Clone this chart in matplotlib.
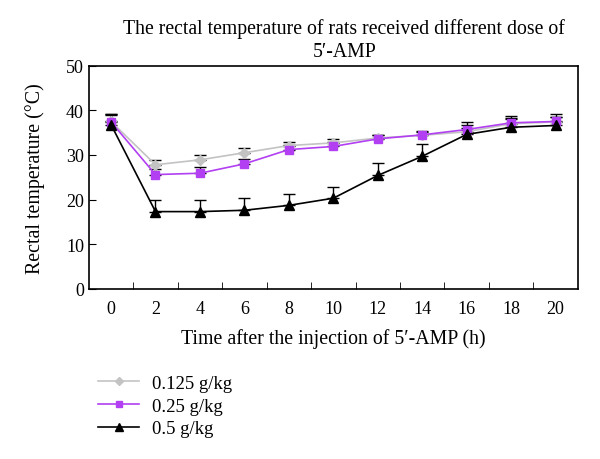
import numpy as np
import matplotlib
matplotlib.use("Agg")
import matplotlib.pyplot as plt
from matplotlib.lines import Line2D

# 数据
hours = [0, 2, 4, 6, 8, 10, 12, 14, 16, 18, 20]
labels = ["0.125 g/kg", "0.25 g/kg", "0.5 g/kg"]
temp_low = [37.5, 27.8, 28.9, 30.5, 32.1, 32.7, 33.8, 34.4, 35.2, 37.0, 37.4]
err_low = [1.6, 1.0, 1.0, 1.0, 0.8, 0.8, 0.7, 0.8, 0.9, 1.0, 1.0]
temp_mid = [37.4, 25.6, 25.9, 28.0, 31.2, 31.9, 33.6, 34.5, 35.7, 37.2, 37.5]
err_mid = [1.6, 1.2, 1.3, 1.2, 1.0, 1.0, 0.8, 0.8, 0.9, 1.0, 1.1]
temp_high = [36.8, 17.3, 17.3, 17.6, 18.7, 20.3, 25.4, 29.7, 34.6, 36.2, 36.6]
err_high = [2.4, 2.7, 2.7, 2.7, 2.6, 2.6, 2.8, 2.7, 2.8, 2.5, 2.6]


def main():
	plt.rcParams['font.family'] = ['Liberation Serif', 'DejaVu Serif']

	fig = plt.figure(figsize=(6, 4.6), dpi=100)
	ax = fig.add_axes([0.148, 0.370, 0.815, 0.485])

	series = [
		(temp_low, err_low, '#c3c3c3', 'D', 5),
		(temp_mid, err_mid, '#b23ff2', 's', 6),
		(temp_high, err_high, 'black', '^', 7),
	]
	handles = []
	for (vals, errs, color, marker, ms), lab in zip(series, labels):
		ax.errorbar(hours, vals, yerr=[np.zeros(len(errs)), errs],
					color=color, marker=marker, ms=ms, lw=1.2,
					ecolor='black', elinewidth=1, capsize=4.5, capthick=1)
		handles.append(Line2D([], [], color=color, marker=marker,
							  ms=ms * 0.75, lw=1.2, label=lab))

	ax.set_xlim(-1, 21)
	ax.set_ylim(0, 50)
	ax.set_xticks(hours)
	ax.set_xticks(np.arange(1, 20, 2), minor=True)
	ax.set_yticks([0, 10, 20, 30, 40, 50])
	ax.tick_params(axis='x', which='major', length=0, labelsize=13, pad=8)
	ax.tick_params(axis='x', which='minor', direction='in', length=5)
	ax.tick_params(axis='y', direction='in', length=5, labelsize=13)
	for s in ax.spines.values():
		s.set_linewidth(1.2)

	ax.set_xlabel("Time after the injection of 5\u2032-AMP (h)", fontsize=14.3, labelpad=8)
	ax.set_ylabel("Rectal temperature (\u00b0C)", fontsize=14.3, labelpad=15)

	fig.text(0.574, 1 - 19 / 460,
			 "The rectal temperature of rats received different dose of\n5\u2032-AMP",
			 ha='center', va='top', fontsize=14.2, multialignment='center',
			 linespacing=1.3)

	fig.legend(handles=handles, loc='upper left',
			   bbox_to_anchor=(0.135, 1 - 359 / 460),
			   frameon=False, fontsize=13.5, handlelength=2.2,
			   handletextpad=0.7, labelspacing=0.3)

	plt.savefig("out.png", dpi=100)


if __name__ == '__main__':
	main()
